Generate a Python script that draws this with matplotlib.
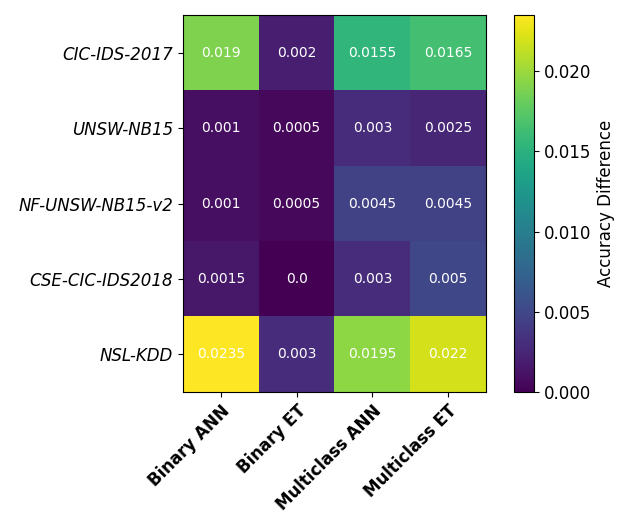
import matplotlib
matplotlib.use("Agg")
import matplotlib.pyplot as plt
import numpy as np

datasets = ["CIC-IDS-2017", "UNSW-NB15", "NF-UNSW-NB15-v2", "CSE-CIC-IDS2018", "NSL-KDD"]
models = ["Binary ANN", "Binary ET", "Multiclass ANN", "Multiclass ET"]
values = [
    [0.019, 0.002, 0.0155, 0.0165],
    [0.001, 0.0005, 0.003, 0.0025],
    [0.001, 0.0005, 0.0045, 0.0045],
    [0.0015, 0.0, 0.003, 0.005],
    [0.0235, 0.003, 0.0195, 0.022],
]
data = np.array(values)

fig = plt.figure(figsize=(6.19, 5.17), dpi=100)
W, H = 619, 517
ax = fig.add_axes([183 / W, 1 - 392 / H, 303 / W, 377 / H])
cax = fig.add_axes([514 / W, 1 - 392 / H, 20 / W, 377 / H])

im = ax.imshow(data, cmap="viridis", aspect="auto")
ax.set_xticks(range(len(models)))
ax.set_xticklabels(models, rotation=45, ha="right", rotation_mode="anchor",
                   fontweight="bold", fontsize=12)
ax.set_yticks(range(len(datasets)))
ax.set_yticklabels(datasets, fontstyle="italic", fontsize=12)

for i in range(data.shape[0]):
    for j in range(data.shape[1]):
        ax.text(j, i, str(values[i][j]), ha="center", va="center", color="white", fontsize=10)

cb = fig.colorbar(im, cax=cax)
cb.set_label("Accuracy Difference", fontsize=12)
cb.ax.tick_params(labelsize=12)

fig.savefig("out.png", dpi=100)
